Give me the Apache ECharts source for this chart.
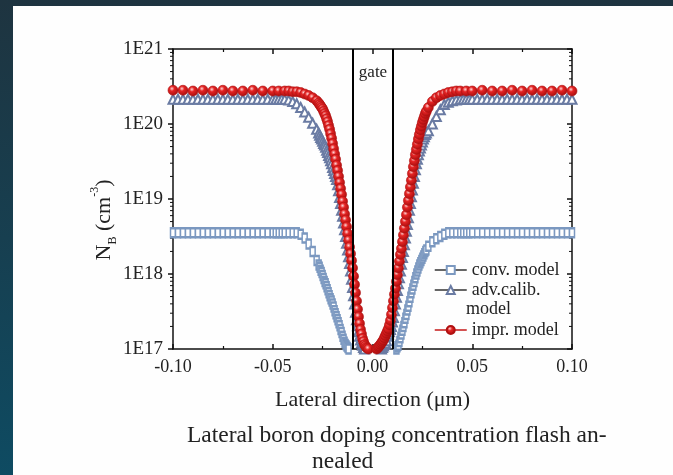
<!DOCTYPE html>
<html><head><meta charset="utf-8">
<script src="https://cdn.jsdelivr.net/npm/echarts@6/dist/echarts.min.js"></script>
<style>
html,body{margin:0;padding:0;width:673px;height:475px;overflow:hidden;}
body{background:linear-gradient(180deg,#1e3440 0%,#173f50 50%,#0e4b62 100%);position:relative;}
#paper{position:absolute;left:13px;top:6px;width:660px;height:469px;background:#fefefe;}
#chart{position:absolute;left:0;top:0;width:673px;height:475px;}
</style></head><body>
<div id="paper"></div><div id="chart"></div>
<script>
// ---- data (values are log10 of N_B in cm^-3) ----
const lateralPos = [
  -0.100,-0.095,-0.090,-0.085,-0.080,-0.075,-0.070,-0.065,-0.060,-0.055,-0.050,
  -0.047,-0.044,-0.042,-0.040,-0.038,-0.036,-0.034,-0.032,-0.030,-0.028,
  -0.0270,-0.0265,-0.0260,-0.0255,-0.0250,-0.0245,-0.0240,-0.0235,-0.0230,-0.0225,
  -0.0220,-0.0215,-0.0210,-0.0205,-0.0200,-0.0195,-0.0190,-0.0185,-0.0180,-0.0175,
  -0.0170,-0.0165,-0.0160,-0.0155,-0.0150,-0.0145,-0.0140,-0.0135,-0.0130,-0.0125,
  -0.0120,-0.0115,-0.0110,-0.0105,-0.0100,-0.0095,-0.0090,-0.0085,-0.0080,-0.0075,
  -0.0070,-0.0065,-0.0060,-0.0055,-0.0050,-0.0045,-0.0040,-0.0035,-0.0030,-0.0025,
  -0.0020,-0.0015,-0.0010,-0.0005,
  0.0000,
  0.0005,0.0010,0.0015,0.0020,
  0.0025,0.0030,0.0035,0.0040,0.0045,0.0050,0.0055,0.0060,0.0065,0.0070,
  0.0075,0.0080,0.0085,0.0090,0.0095,0.0100,0.0105,0.0110,0.0115,0.0120,
  0.0125,0.0130,0.0135,0.0140,0.0145,0.0150,0.0155,0.0160,0.0165,0.0170,
  0.0175,0.0180,0.0185,0.0190,0.0195,0.0200,0.0205,0.0210,0.0215,0.0220,
  0.0225,0.0230,0.0235,0.0240,0.0245,0.0250,0.0255,0.0260,0.0265,0.0270,
  0.028,0.030,0.032,0.034,0.036,0.038,0.040,0.042,0.044,0.047,
  0.050,0.055,0.060,0.065,0.070,0.075,0.080,0.085,0.090,0.095,0.100
];
const imprModel = [
  20.45,20.45,20.44,20.45,20.44,20.45,20.44,20.44,20.45,20.44,20.44,
  20.44,20.44,20.44,20.43,20.43,20.42,20.40,20.38,20.35,20.31,
  20.28,20.26,20.24,20.22,20.20,20.17,20.14,20.11,20.07,20.03,
  19.98,19.93,19.87,19.81,19.74,19.67,19.60,19.53,19.45,19.38,
  19.30,19.22,19.14,19.06,18.97,18.89,18.80,18.72,18.63,18.54,
  18.45,18.36,18.27,18.18,18.08,17.97,17.86,17.75,17.64,17.53,
  17.43,17.34,17.26,17.20,17.14,17.10,17.06,17.04,17.02,17.01,
  17.00,16.99,16.98,16.97,
  16.97,
  16.97,16.98,16.99,17.00,
  17.01,17.03,17.04,17.06,17.08,17.10,17.12,17.15,17.18,17.21,
  17.24,17.27,17.32,17.38,17.46,17.55,17.64,17.73,17.81,17.90,
  17.99,18.08,18.17,18.26,18.34,18.43,18.52,18.61,18.70,18.79,
  18.89,18.98,19.07,19.16,19.25,19.34,19.43,19.51,19.59,19.66,
  19.73,19.80,19.86,19.92,19.97,20.02,20.06,20.10,20.14,20.17,
  20.22,20.30,20.35,20.38,20.40,20.42,20.43,20.44,20.44,20.44,
  20.44,20.45,20.44,20.44,20.45,20.44,20.45,20.44,20.44,20.45,20.44
];
const advCalibModel = [
  20.33,20.33,20.33,20.33,20.33,20.33,20.33,20.33,20.33,20.33,20.33,
  20.33,20.33,20.32,20.30,20.27,20.22,20.16,20.09,20.01,19.93,
  19.88,19.85,19.82,19.80,19.77,19.74,19.72,19.69,19.65,19.62,
  19.58,19.55,19.51,19.47,19.42,19.38,19.34,19.30,19.26,19.19,
  19.11,19.02,18.94,18.85,18.77,18.68,18.59,18.50,18.41,18.32,
  18.23,18.14,18.04,17.93,17.82,17.71,17.60,17.49,17.39,17.31,
  17.23,17.17,17.12,17.08,17.05,17.02,17.00,16.98,16.96,16.95,
  16.94,16.93,16.92,16.92,
  16.92,
  16.92,16.92,16.93,16.94,
  16.95,16.96,16.97,16.98,17.00,17.02,17.04,17.06,17.08,17.11,
  17.17,17.20,17.23,17.26,17.30,17.36,17.42,17.51,17.60,17.69,
  17.78,17.87,17.95,18.04,18.13,18.22,18.30,18.39,18.48,18.57,
  18.66,18.75,18.85,18.94,19.03,19.12,19.21,19.30,19.39,19.47,
  19.53,19.59,19.64,19.68,19.72,19.76,19.80,19.83,19.86,19.88,
  19.91,20.00,20.10,20.19,20.26,20.29,20.31,20.32,20.33,20.33,
  20.33,20.33,20.33,20.33,20.33,20.33,20.33,20.33,20.33,20.33,20.33
];
const convModel = [
  18.55,18.55,18.55,18.55,18.55,18.55,18.55,18.55,18.55,18.55,18.55,
  18.55,18.55,18.55,18.55,18.55,18.53,18.48,18.40,18.30,18.18,
  18.12,18.09,18.05,18.02,17.98,17.94,17.90,17.87,17.83,17.79,
  17.75,17.71,17.67,17.64,17.60,17.56,17.51,17.47,17.43,17.39,
  17.35,17.31,17.26,17.22,17.17,17.13,17.09,17.06,17.04,17.02,
  17.00,16.97,16.95,16.90,16.85,null,null,null,null,null,
  null,null,null,null,null,null,null,null,null,null,
  null,null,null,null,
  null,
  null,null,null,null,
  null,null,null,null,null,null,null,null,null,null,
  null,null,null,null,null,16.85,16.90,16.95,16.98,17.00,
  17.03,17.05,17.10,17.15,17.20,17.25,17.30,17.35,17.41,17.46,
  17.52,17.57,17.63,17.69,17.75,17.80,17.85,17.90,17.95,18.00,
  18.04,18.08,18.12,18.15,18.18,18.21,18.24,18.27,18.30,18.32,
  18.37,18.43,18.47,18.50,18.53,18.55,18.55,18.55,18.55,18.55,
  18.55,18.55,18.55,18.55,18.55,18.55,18.55,18.55,18.55,18.55,18.55
];
// extra plateau samples of the two simulated models (finer mesh than impr. model)
const finePlateauPos = [
  -0.0975,-0.0925,-0.0875,-0.0825,-0.0775,-0.0725,-0.0675,-0.0625,-0.0575,-0.0525,-0.0485,-0.0455,
  0.0455,0.0485,0.0525,0.0575,0.0625,0.0675,0.0725,0.0775,0.0825,0.0875,0.0925,0.0975
];
const convPlateauFine = [
  18.55,18.55,18.55,18.55,18.55,18.55,18.55,18.55,18.55,18.55,18.55,18.55,
  18.55,18.55,18.55,18.55,18.55,18.55,18.55,18.55,18.55,18.55,18.55,18.55
];
const advPlateauFine = [
  20.33,20.33,20.33,20.33,20.33,20.33,20.33,20.33,20.33,20.33,20.33,20.33,
  20.33,20.33,20.33,20.33,20.33,20.33,20.33,20.33,20.33,20.33,20.33,20.33
];
const gatePos = [-0.0105, 0.0105];
const xTickLabels = ['-0.10','-0.05','0.00','0.05','0.10'];
const yTickLabels = ['1E17','1E18','1E19','1E20','1E21'];
const seriesNames = ['conv. model','adv.calib. model','impr. model'];

[imprModel, advCalibModel, convModel].forEach(a => {
  if (a.length !== lateralPos.length) throw new Error('length mismatch ' + a.length + ' vs ' + lateralPos.length);
});

const FONT = "'Liberation Serif','Times New Roman',serif";
const toPair = (x, v) => v == null ? [x, '-'] : [x, Math.pow(10, v)];
const toPairs = (arr, extraPos, extraVals) => {
  let p = lateralPos.map((x, i) => toPair(x, arr[i]));
  if (extraPos) p = p.concat(extraPos.map((x, i) => toPair(x, extraVals[i])));
  return p.sort((a, b) => a[0] - b[0]);
};

const minorVals = [];
for (let e = 17; e < 21; e++) for (let k = 2; k <= 9; k++) minorVals.push(k * Math.pow(10, e));

const axisLineStyle = {color: '#111', width: 1.5};
const chart = echarts.init(document.getElementById('chart'), null, {renderer: 'canvas'});

const redGrad = {type: 'radial', x: 0.4, y: 0.35, r: 0.65, colorStops: [
  {offset: 0, color: '#ffd6d6'}, {offset: 0.35, color: '#e42424'}, {offset: 1, color: '#a80e0e'}]};

const logAxisBase = {type: 'log', logBase: 10, min: 1e17, max: 1e21, splitLine: {show: false}};

chart.setOption({
  animation: false,
  backgroundColor: 'transparent',
  grid: {left: 173, right: 101, top: 49, bottom: 126},
  xAxis: [
    {type: 'value', position: 'bottom', min: -0.1, max: 0.1, interval: 0.05,
     axisLine: {onZero: false, lineStyle: axisLineStyle},
     axisTick: {inside: true, length: 5, lineStyle: axisLineStyle},
     minorTick: {show: true, splitNumber: 2, length: 3, lineStyle: {color: '#111', width: 1.2}},
     splitLine: {show: false},
     axisLabel: {margin: 9, fontFamily: FONT, fontSize: 18, color: '#222',
       formatter: v => xTickLabels[Math.round((v + 0.1) / 0.05)]},
     name: 'Lateral direction (μm)', nameLocation: 'middle', nameGap: 40,
     nameTextStyle: {fontFamily: FONT, fontSize: 22, color: '#222'}},
    {type: 'value', position: 'top', min: -0.1, max: 0.1, interval: 0.05,
     axisLine: {onZero: false, lineStyle: axisLineStyle},
     axisTick: {inside: true, length: 5, lineStyle: axisLineStyle},
     minorTick: {show: true, splitNumber: 2, length: 3, lineStyle: {color: '#111', width: 1.2}},
     splitLine: {show: false}, axisLabel: {show: false}}
  ],
  yAxis: [
    Object.assign({}, logAxisBase, {position: 'left',
     axisLine: {onZero: false, lineStyle: axisLineStyle},
     axisTick: {inside: false, length: 5, lineStyle: axisLineStyle},
     axisLabel: {margin: 10, fontFamily: FONT, fontSize: 19, color: '#222',
       formatter: v => yTickLabels[Math.round(Math.log10(v)) - 17]}}),
    Object.assign({}, logAxisBase, {position: 'right', offset: 0,
     axisLine: {onZero: false, lineStyle: axisLineStyle},
     axisTick: {inside: true, length: 5, lineStyle: axisLineStyle},
     axisLabel: {show: false}})
  ],
  legend: [
    {orient: 'vertical', left: 429, top: 256, itemWidth: 32, itemHeight: 10, itemGap: 2,
     textStyle: {fontFamily: FONT, fontSize: 18, lineHeight: 18, color: '#222'},
     formatter: n => n === 'adv.calib. model' ? 'adv.calib.' : n,
     data: [
       {name: 'conv. model', lineStyle: {color: '#333', width: 1.5}},
       {name: 'adv.calib. model', lineStyle: {color: '#333', width: 1.5}}
     ]},
    {orient: 'vertical', left: 429, top: 316, itemWidth: 32, itemHeight: 10,
     textStyle: {fontFamily: FONT, fontSize: 18, lineHeight: 18, color: '#222'},
     data: [{name: 'impr. model', lineStyle: {color: '#c41818', width: 1.5}}]}
  ],
  series: [
    {name: seriesNames[0], type: 'line', data: toPairs(convModel, finePlateauPos, convPlateauFine), z: 2,
     symbol: 'emptyRect', symbolSize: [5, 9], showAllSymbol: true,
     itemStyle: {color: '#7b98c0', borderWidth: 1},
     lineStyle: {color: '#7b98c0', width: 1}},
    {name: seriesNames[1], type: 'line', data: toPairs(advCalibModel, finePlateauPos, advPlateauFine), z: 3,
     symbol: 'emptyTriangle', symbolSize: 9, showAllSymbol: true,
     itemStyle: {color: '#6a7ba3', borderWidth: 1},
     lineStyle: {color: '#6a7ba3', width: 1}},
    {name: seriesNames[2], type: 'line', data: toPairs(imprModel), z: 4,
     symbol: 'circle', symbolSize: 10, showAllSymbol: true,
     itemStyle: {color: redGrad, borderColor: '#b01010', borderWidth: 0.6},
     lineStyle: {color: '#d01c1c', width: 1.5},
     markLine: {silent: true, symbol: 'none', label: {show: false},
       lineStyle: {color: '#000', width: 2, type: 'solid'},
       data: gatePos.map(g => ({xAxis: g}))}}
  ]
});

// minor log ticks (2..9 x 10^n), positioned through the y axis scale
const xl = chart.convertToPixel({xAxisIndex: 0}, -0.1);
const xr = chart.convertToPixel({xAxisIndex: 0}, 0.1);
const tickEls = [];
minorVals.forEach(v => {
  const y = chart.convertToPixel({yAxisIndex: 0}, v);
  tickEls.push({type: 'line', silent: true, shape: {x1: xl - 3, y1: y, x2: xl, y2: y}, style: {stroke: '#111', lineWidth: 1}});
  tickEls.push({type: 'line', silent: true, shape: {x1: xr - 3, y1: y, x2: xr, y2: y}, style: {stroke: '#111', lineWidth: 1}});
});

chart.setOption({
  graphic: tickEls.concat([
    {type: 'text', x: 373, y: 73, style: {text: 'gate', font: '17px ' + FONT, fill: '#222', align: 'center', verticalAlign: 'middle'}},
    {type: 'text', x: 466, y: 309, style: {text: 'model', font: '18px ' + FONT, fill: '#222', align: 'left', verticalAlign: 'middle'}},
    {type: 'text', x: 104, y: 220, rotation: Math.PI / 2,
     style: {text: '{n|N}{s|B}{n| (cm}{p|-3}{n|)}', align: 'center', verticalAlign: 'middle', fill: '#222',
       rich: {
         n: {fontFamily: FONT, fontSize: 22, fill: '#222', lineHeight: 26},
         s: {fontFamily: FONT, fontSize: 12, fill: '#222', verticalAlign: 'bottom', lineHeight: 16},
         p: {fontFamily: FONT, fontSize: 12, fill: '#222', verticalAlign: 'top', lineHeight: 30}
       }}},
    {type: 'text', x: 187, y: 436, style: {text: 'Lateral boron doping concentration flash an-', font: '23.5px ' + FONT, fill: '#222', align: 'left', verticalAlign: 'middle'}},
    {type: 'text', x: 312, y: 462, style: {text: 'nealed', font: '23.5px ' + FONT, fill: '#222', align: 'left', verticalAlign: 'middle'}}
  ])
});
</script></body></html>
